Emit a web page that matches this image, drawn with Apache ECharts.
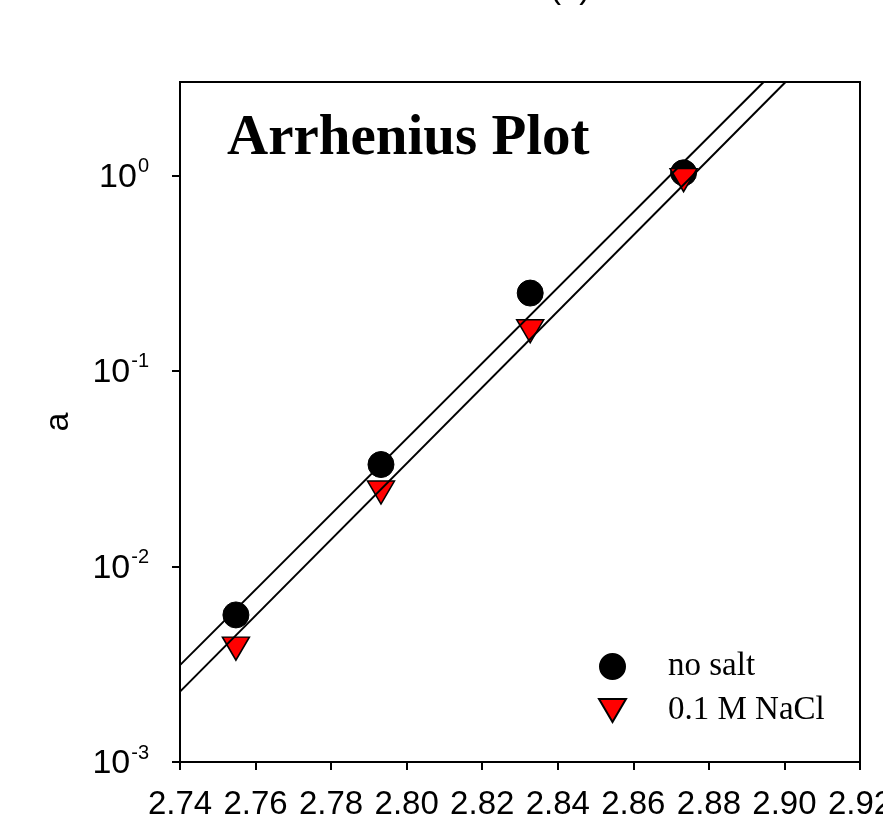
<!DOCTYPE html>
<html>
<head>
<meta charset="utf-8">
<script src="https://cdn.jsdelivr.net/npm/echarts@6/dist/echarts.min.js"></script>
<style>
  html, body { margin: 0; padding: 0; background: #fff; }
  #chart { width: 883px; height: 830px; }
</style>
</head>
<body>
<div id="chart"></div>
<script>
// Inverse temperature (1000/T) of each run
const invT = [2.7548, 2.7932, 2.8327, 2.8733];
// Rate constant a, no added salt
const aNoSalt = [0.00565, 0.0332, 0.250, 1.03];
// Rate constant a, in 0.1 M NaCl
const aNaCl = [0.0038, 0.0239, 0.1595, 0.945];
// Least-squares fit lines, given by their end points [1000/T, a]
const fitNoSalt = [[2.74, 0.00313], [2.8945, 3.0]];
const fitNaCl = [[2.74, 0.00229], [2.9003, 3.0]];
// Axis ticks
const xTicks = [2.74, 2.76, 2.78, 2.80, 2.82, 2.84, 2.86, 2.88, 2.90, 2.92];
const yTicks = [0.001, 0.01, 0.1, 1];
const seriesNames = ['no salt', '0.1 M NaCl'];

const SANS = 'Liberation Sans, Arial, sans-serif';
const SERIF = 'Liberation Serif, Times New Roman, serif';
const TRIANGLE_DOWN = 'path://M0,0L10,0L5,8.5Z';

const chart = echarts.init(document.getElementById('chart'), null, { renderer: 'canvas' });

chart.setOption({
  backgroundColor: '#ffffff',
  animation: false,
  title: [
    {
      text: '(a)',
      left: 545,
      top: -33,
      textStyle: { fontFamily: SANS, fontSize: 33, fontWeight: 'normal', color: '#000' }
    },
    {
      text: 'Arrhenius Plot',
      left: 222,
      top: 106,
      textStyle: { fontFamily: SERIF, fontSize: 57, fontWeight: 'bold', color: '#000' }
    }
  ],
  legend: {
    data: seriesNames,
    orient: 'vertical',
    left: 593,
    top: 645,
    itemWidth: 27,
    itemHeight: 25,
    itemGap: 11,
    textStyle: { fontFamily: SERIF, fontSize: 33, color: '#000', padding: [0, 0, 0, 37] }
  },
  grid: {
    left: 180,
    right: 23,
    top: 82,
    bottom: 68,
    outerBoundsMode: 'none',
    containLabel: false,
    show: true,
    borderColor: '#000',
    borderWidth: 2,
    backgroundColor: 'transparent'
  },
  xAxis: {
    type: 'value',
    min: 2.74,
    max: 2.92,
    interval: 0.02,
    axisLine: { show: true, onZero: false, lineStyle: { color: '#000', width: 2 } },
    axisTick: { show: true, inside: false, length: 8, lineStyle: { color: '#000', width: 2 } },
    axisLabel: {
      show: true,
      margin: 26,
      fontFamily: SANS,
      fontSize: 33,
      color: '#000',
      showMinLabel: true,
      showMaxLabel: true,
      hideOverlap: false,
      customValues: xTicks,
      formatter: v => v.toFixed(2)
    },
    splitLine: { show: false }
  },
  yAxis: {
    type: 'log',
    logBase: 10,
    min: 0.001,
    max: 3,
    name: 'a',
    nameLocation: 'middle',
    nameGap: 104,
    nameRotate: 90,
    nameTextStyle: { fontFamily: SANS, fontSize: 34, color: '#000' },
    axisLine: { show: true, lineStyle: { color: '#000', width: 2 } },
    axisTick: {
      show: true,
      inside: false,
      length: 8,
      customValues: yTicks,
      lineStyle: { color: '#000', width: 2 }
    },
    axisLabel: {
      show: true,
      margin: 31,
      customValues: yTicks,
      formatter: v => '{b|10}{s|' + Math.round(Math.log10(v)) + '}',
      rich: {
        b: { fontFamily: SANS, fontSize: 34, color: '#000', lineHeight: 38, verticalAlign: 'bottom' },
        s: { fontFamily: SANS, fontSize: 20, color: '#000', verticalAlign: 'top', lineHeight: 20, padding: [0, 0, 7, 1] }
      }
    },
    splitLine: { show: false },
    minorTick: { show: false }
  },
  series: [
    {
      name: 'fit no salt',
      type: 'line',
      data: fitNoSalt,
      showSymbol: false,
      clip: true,
      silent: true,
      lineStyle: { color: '#000', width: 2 }
    },
    {
      name: 'fit NaCl',
      type: 'line',
      data: fitNaCl,
      showSymbol: false,
      clip: true,
      silent: true,
      lineStyle: { color: '#000', width: 2 }
    },
    {
      name: seriesNames[0],
      type: 'scatter',
      symbol: 'circle',
      symbolSize: 26,
      data: invT.map((x, i) => [x, aNoSalt[i]]),
      itemStyle: { color: '#000', borderColor: '#000', borderWidth: 1, opacity: 1 }
    },
    {
      name: seriesNames[1],
      type: 'scatter',
      symbol: TRIANGLE_DOWN,
      symbolSize: [27, 23],
      data: invT.map((x, i) => [x, aNaCl[i]]),
      itemStyle: { color: '#ff0000', borderColor: '#000', borderWidth: 1.5, opacity: 1 }
    }
  ]
});
</script>
</body>
</html>
